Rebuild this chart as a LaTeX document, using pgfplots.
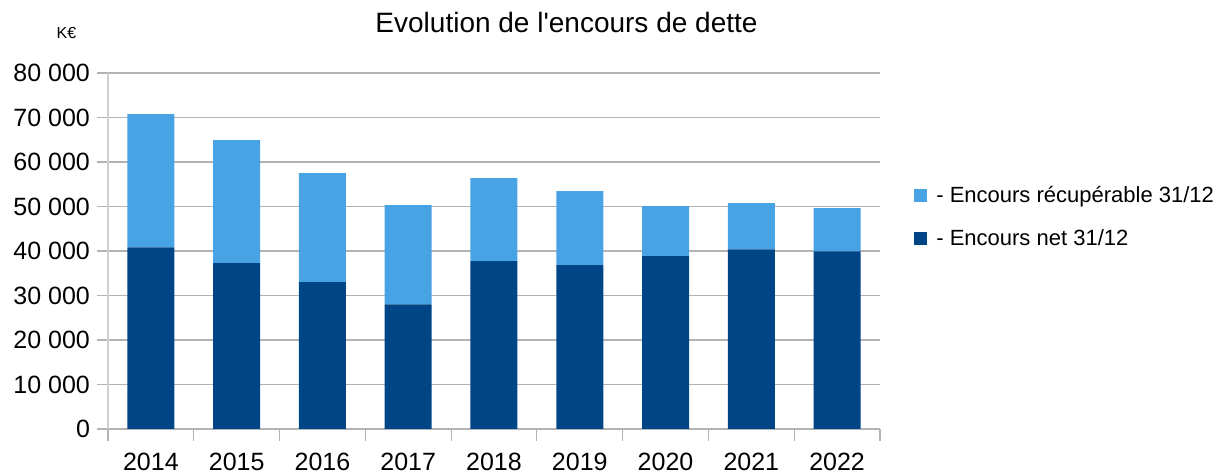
\documentclass[border=0pt]{standalone}
\usepackage{pgfplots}
\pgfplotsset{compat=1.18}
\usepackage{fontspec}
\setmainfont{Liberation Sans}
\definecolor{dkblue}{HTML}{004586}
\definecolor{ltblue}{HTML}{47A3E3}
\definecolor{gridgray}{HTML}{B3B3B3}
\definecolor{axgray}{HTML}{D0D0D0}
\begin{document}
\begin{tikzpicture}
\begin{axis}[
  at={(0,0)}, anchor=south west,
  scale only axis, width=386pt, height=178pt,
  ybar stacked, bar width=23.5pt,
  xmin=-0.5, xmax=8.5, ymin=0, ymax=80000,
  xtick={0,1,2,3,4,5,6,7,8},
  xticklabels={2014,2015,2016,2017,2018,2019,2020,2021,2022},
  minor xtick={-0.5,0.5,1.5,2.5,3.5,4.5,5.5,6.5,7.5,8.5},
  ytick={0,10000,20000,30000,40000,50000,60000,70000,80000},
  scaled y ticks=false,
  /pgf/number format/assume math mode=true,
  yticklabel style={/pgf/number format/1000 sep={\ }},
  xticklabel style={yshift=-3pt},
  ymajorgrids, grid style={gridgray, line width=0.6pt},
  axis lines*=left,
  x axis line style={gridgray, line width=0.6pt},
  y axis line style={axgray, line width=0.8pt},
  tick align=outside, major tick length=5.5pt, minor tick length=6pt,
  major x tick style={draw=none},
  minor x tick style={gridgray, line width=0.6pt},
  major y tick style={gridgray, line width=0.6pt},
  ticklabel style={font=\fontsize{12.5}{15}\selectfont},
  legend style={at={(rel axis cs:1.044,0.5955)}, anchor=west, draw=none, fill=none,
    inner sep=0pt, font=\fontsize{11}{13}\selectfont, row sep=8pt, cells={anchor=west},
    /tikz/every odd column/.append style={column sep=2.5pt}},
  legend image code/.code={\fill[#1] (-1.5pt,-3.25pt) rectangle (5pt,3.25pt);},
  reverse legend,
]
\addplot[fill=dkblue, draw=none] coordinates {(0,40820) (1,37270) (2,33000) (3,28010) (4,37720) (5,36820) (6,38840) (7,40370) (8,39930)};
\addlegendentry{- Encours net 31/12}
\addplot[fill=ltblue, draw=none] coordinates {(0,29930) (1,27670) (2,24490) (3,22290) (4,18660) (5,16630) (6,11240) (7,10380) (8,9690)};
\addlegendentry{- Encours récupérable 31/12}
\end{axis}
\node[font=\fontsize{14}{17}\selectfont, anchor=base] at (229.25pt,198pt) {Evolution de l\textquotesingle encours de dette};
\node[font=\fontsize{8}{10}\selectfont, anchor=base] at (-20.75pt,195pt) {K€};
\pgfresetboundingbox
\path[use as bounding box] (-54pt,-22.5pt) rectangle (556pt,214.5pt);
\end{tikzpicture}
\end{document}
